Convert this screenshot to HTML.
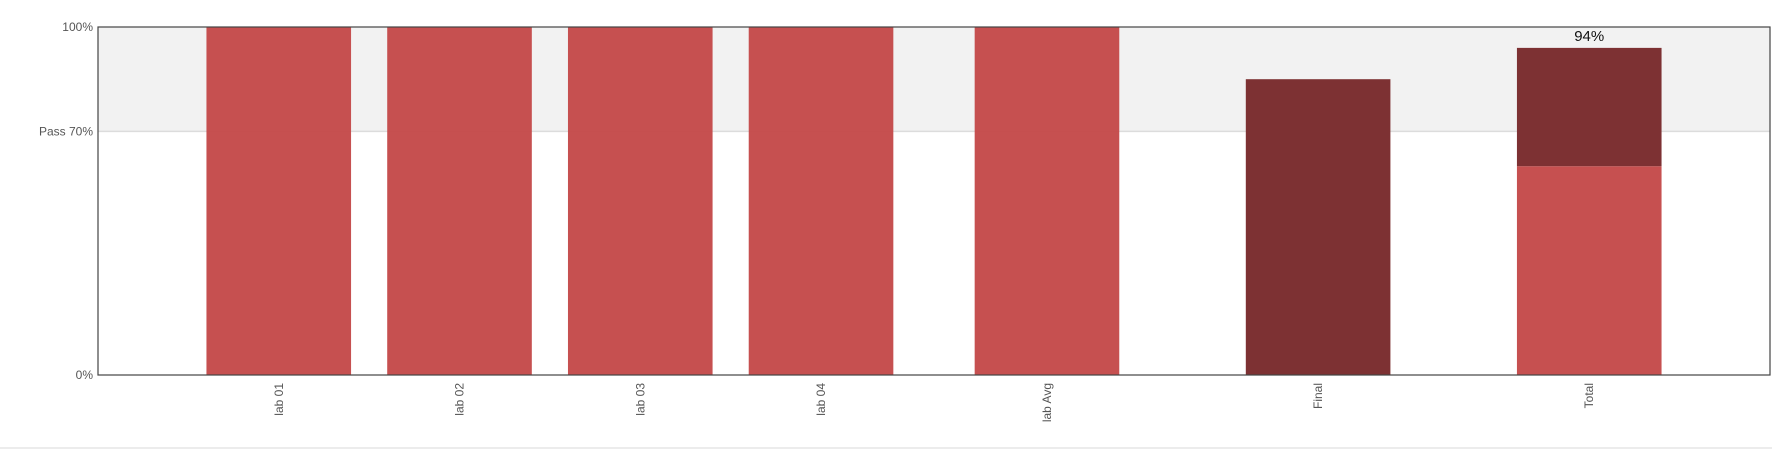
<!DOCTYPE html>
<html><head><meta charset="utf-8"><style>
html,body{margin:0;padding:0;background:#fff;width:1789px;height:451px;overflow:hidden}
text{font-family:"Liberation Sans",sans-serif}
</style></head><body>
<svg id="chart" width="1789" height="451" xmlns="http://www.w3.org/2000/svg"></svg>
<script>
const categories = ["lab 01","lab 02","lab 03","lab 04","lab Avg","Final","Total"];
const catPos = [1,2,3,4,5.25,6.75,8.25];
const labValues = [100,100,100,100,100,0,60];
const examValues = [0,0,0,0,0,85,34];
const yTicks = [0,70,100];
const yTickLabels = ["0%","Pass 70%","100%"];
const totalLabel = "94%";

const NS="http://www.w3.org/2000/svg";
const svg=document.getElementById('chart');
const L=98,R=1770,T=27,B=375;
const xMin=0,xMax=9.25;
const xs=v=>L+(v-xMin)/(xMax-xMin)*(R-L);
const ys=v=>B-v/100*(B-T);
const bw=0.8*(R-L)/(xMax-xMin);
function mk(tag,attrs,parent){const e=document.createElementNS(NS,tag);for(const k in attrs)e.setAttribute(k,attrs[k]);(parent||svg).appendChild(e);return e;}

let band=mk('rect',{x:L,y:ys(100),width:R-L,height:ys(70)-ys(100),fill:'#f2f2f2'});


let pl=mk('line',{x1:L,x2:R,y1:ys(70),y2:ys(70),stroke:'#dcdcdc','stroke-width':1.5});



categories.forEach((c,i)=>{
  const cx=xs(catPos[i]);
  let base=0;
  if(labValues[i]>0){
    const r=mk('rect',{x:cx-bw/2,y:ys(labValues[i]),width:bw,height:ys(0)-ys(labValues[i]),fill:'#c44a4a','fill-opacity':0.97});
    
    
    base=labValues[i];
  }
  if(examValues[i]>0){
    const top=base+examValues[i];
    const r=mk('rect',{x:cx-bw/2,y:ys(top),width:bw,height:ys(base)-ys(top),fill:'#7a2d2f','fill-opacity':0.98});
    
    
  }
  const t=mk('text',{x:0,y:0,transform:`translate(${cx+4},${B+8}) rotate(-90)`,'text-anchor':'end','font-size':12,fill:'#555'});
  t.textContent=c;
  
  
});

const ti=categories.length-1;
const lbl=mk('text',{x:xs(catPos[ti]),y:ys(labValues[ti]+examValues[ti])-7,'text-anchor':'middle','font-size':15,fill:'#111'});
lbl.textContent=totalLabel;



yTicks.forEach((v,i)=>{
  const t=mk('text',{x:L-5,y:ys(v)+4,'text-anchor':'end','font-size':12,fill:'#555'});
  t.textContent=yTickLabels[i];
  
  
});

let frame=mk('rect',{x:L,y:T,width:R-L,height:B-T,fill:'none',stroke:'#444','stroke-width':1.2});


let sep=mk('line',{x1:0,x2:1772,y1:448,y2:448,stroke:'#e5e5e5','stroke-width':1.5});


</script>
</body></html>
